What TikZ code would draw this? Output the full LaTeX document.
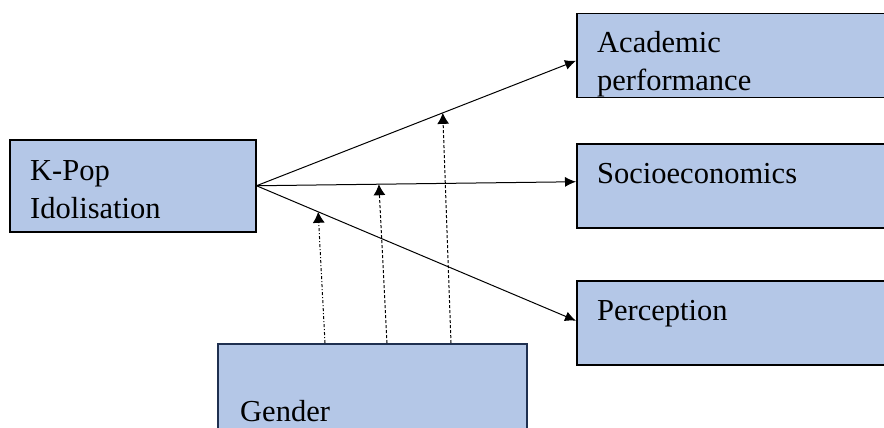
\documentclass[tikz,border=0pt]{standalone}
\usepackage{fontspec}
\setmainfont{Liberation Serif}
\usetikzlibrary{arrows.meta,calc}
\definecolor{boxfill}{HTML}{B4C7E7}
\definecolor{navy}{HTML}{1F3050}
\tikzset{
  box/.style={draw=black, line width=1.5pt, fill=boxfill, rectangle, inner sep=0pt, anchor=north west},
  gbox/.style={draw=navy, line width=2.4pt, fill=boxfill, rectangle, inner sep=0pt, anchor=north west},
  lbl/.style={anchor=base west, inner sep=0pt, font=\fontsize{30.5}{38}\selectfont},
  link/.style={line width=1pt, -{Latex[length=11pt,width=10pt]}},
  mod/.style={line width=1pt, dash pattern=on 3pt off 2pt, -{Latex[length=11pt,width=12pt]}},
  modb/.style={line width=1pt, dash pattern=on 3pt off 2pt on 1pt off 2pt, -{Latex[length=11pt,width=12pt]}}
}
\begin{document}
\begin{tikzpicture}[x=1pt,y=-1pt]
\useasboundingbox (0,0) rectangle (884,428);
% boxes
\node[box, minimum width=246pt, minimum height=92pt] (kpop) at (9,139) {};
\node[box, minimum width=314pt, minimum height=84pt] (acad) at (576,13) {};
\node[box, minimum width=314pt, minimum height=84pt] (socio) at (576,143) {};
\node[box, minimum width=314pt, minimum height=84pt] (perc) at (576,280) {};
\node[gbox, minimum width=309pt, minimum height=100pt] (gender) at (217,343) {};
% labels
\node[lbl] (t1) at (30,180) {K-Pop};
\node[lbl] (t2) at (30,218) {Idolisation};
\node[lbl] (t3) at (597,53) {Academic};
\node[lbl] (t4) at (597,91) {performance};
\node[lbl] (t5) at (597,183) {Socioeconomics};
\node[lbl] (t6) at (597,320) {Perception};
\node[lbl] (t7) at (240,421) {Gender};
% main connectors
\draw[link] (kpop.east) -- ([yshift=-5pt]acad.west) coordinate[pos=0.583] (m3);
\draw[link] (kpop.east) -- ([yshift=4pt]socio.west) coordinate[pos=0.383] (m2);
\draw[link] (kpop.east) -- ([yshift=2pt]perc.west) coordinate[pos=0.193] (m1);
% moderating connectors
\draw[modb] ([xshift=108pt]gender.north west) -- (m1);
\draw[mod] ([xshift=170pt]gender.north west) -- (m2);
\draw[mod] ([xshift=234pt]gender.north west) -- (m3);
\end{tikzpicture}
\end{document}
